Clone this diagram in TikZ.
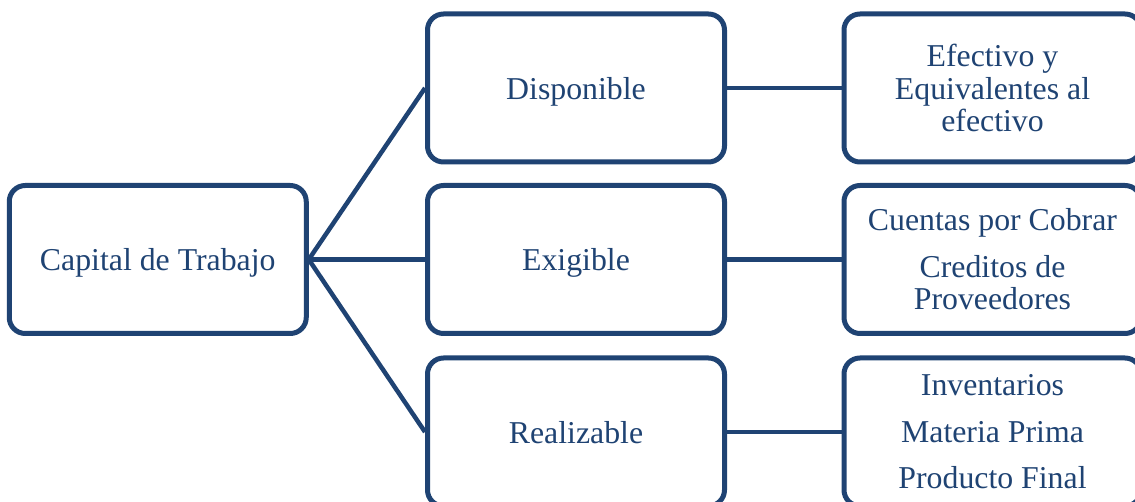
\documentclass[tikz,border=0pt]{standalone}
\usepackage{fontspec}
\setmainfont{Liberation Serif}
\definecolor{navy}{HTML}{1F4373}
\begin{document}
\begin{tikzpicture}[x=1pt,y=-1pt,
  box/.style={draw=navy, line width=5pt, rounded corners=16pt, fill=white,
    minimum width=297pt, minimum height=148pt, inner sep=2pt, align=center,
    text=navy, font=\fontsize{31.8}{32.6}\selectfont},
  single/.style={text depth=0pt},
  link/.style={draw=navy, line width=4.5pt}]
\useasboundingbox (0,0) rectangle (1135,502);
\clip (0,0) rectangle (1135,502);
\node[box,single] (cap) at (157.75,259.5) {Capital de Trabajo};
\node[box,single] (disp) at (576,88) {Disponible};
\node[box,single] (exig) at (576,259.5) {Exigible};
\node[box,single] (real) at (576,432) {Realizable};
\node[box] (efec) at (992.5,88) {Efectivo y\\Equivalentes al\\efectivo};
\node[box] (cuen) at (992.5,259.5) {Cuentas por Cobrar\\[13.8pt]Creditos de\\Proveedores};
\node[box] (inve) at (992.5,432) {Inventarios\\[13.8pt]Materia Prima\\[13.8pt]Producto Final};
\draw[link] (cap.east) -- (disp.west);
\draw[link] (cap.east) -- (exig.west);
\draw[link] (cap.east) -- (real.west);
\draw[link] (disp.east) -- (efec.west);
\draw[link] (exig.east) -- (cuen.west);
\draw[link] (real.east) -- (inve.west);
\end{tikzpicture}
\end{document}
